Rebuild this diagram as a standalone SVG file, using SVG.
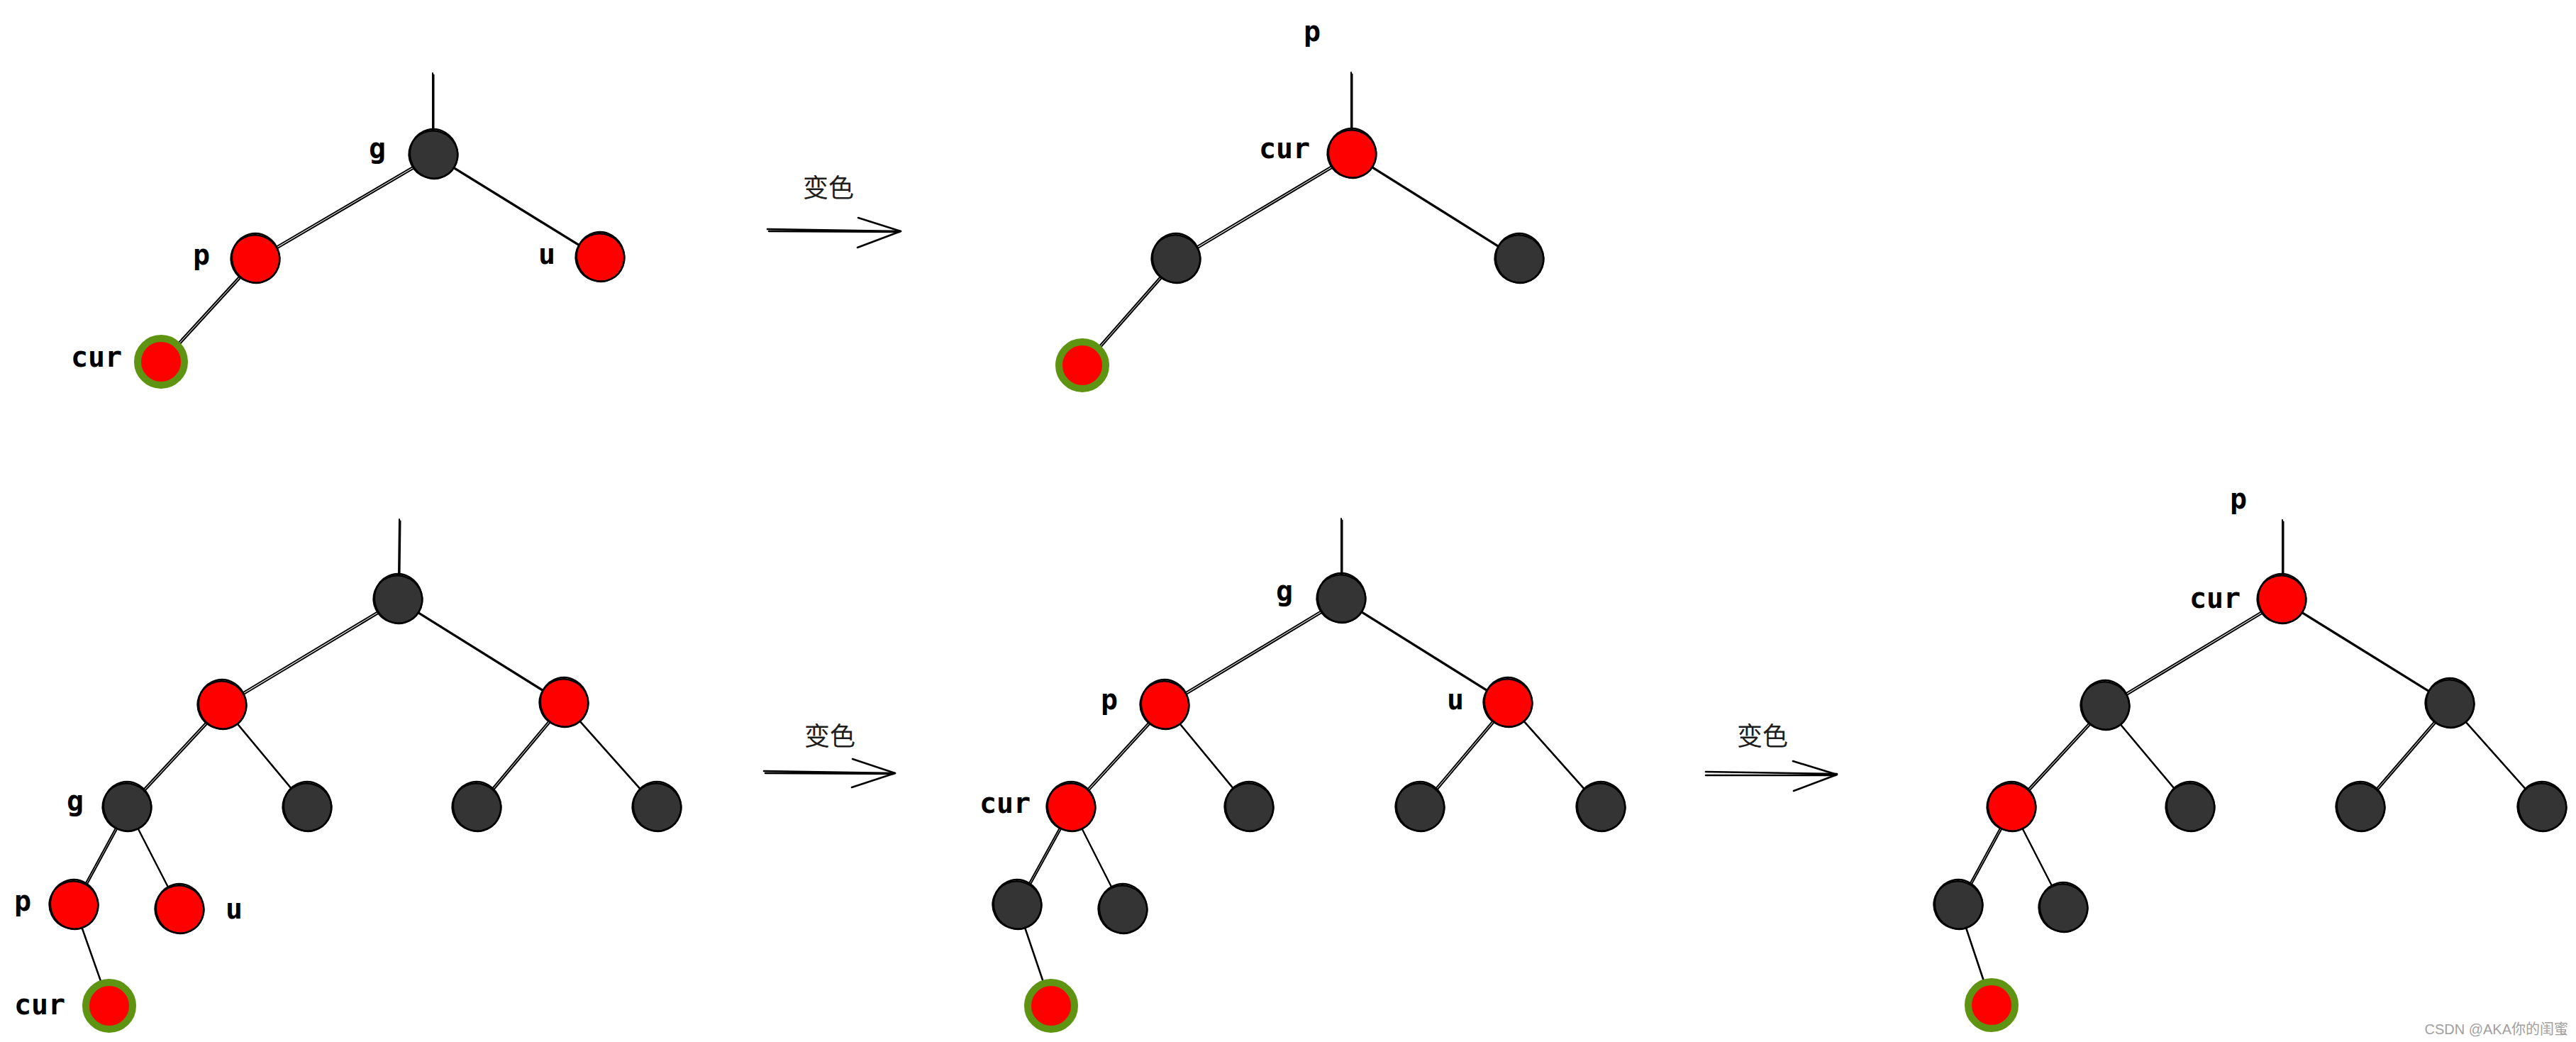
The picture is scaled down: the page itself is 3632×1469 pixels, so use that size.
<svg xmlns="http://www.w3.org/2000/svg" xmlns:xlink="http://www.w3.org/1999/xlink" width="3632" height="1469" viewBox="0 0 3632 1469">
<style>
.lbl{font-family:"DejaVu Sans Mono","Liberation Mono",monospace;font-weight:bold;font-size:40px;fill:#000;text-anchor:middle}
.cn{font-family:"Noto Sans CJK SC","Noto Sans",sans-serif;font-size:36px;fill:#1e1e1e;text-anchor:middle}
.wm{font-family:"Liberation Sans","Noto Sans CJK SC",sans-serif;font-size:20px;fill:#a0a0a0;text-anchor:end}
.e{stroke:#000;stroke-width:2;fill:none;stroke-linecap:round}
.ar{stroke:#000;stroke-width:2.6;fill:none;stroke-linecap:round;stroke-linejoin:round}
</style>
<defs>
<g id="ring" fill="none" stroke="#000" stroke-width="2.4">
<ellipse rx="34.5" ry="33.5" transform="rotate(20)"/>
<ellipse cx="0.8" cy="-0.8" rx="33.5" ry="35" transform="rotate(-15)"/>
</g>
<g id="nb"><circle r="34" fill="#343434"/><use xlink:href="#ring"/></g>
<g id="nr"><circle r="34.5" fill="#ff0000"/><use xlink:href="#ring"/></g>
<g id="ng"><circle r="33" fill="#ff0000" stroke="#5f9412" stroke-width="10"/></g>
</defs>
<rect width="3632" height="1469" fill="#fff"/>

<g id="connectors">
<g id="edges">
<line class="e" x1="610" y1="103" x2="610" y2="183"/>
<line class="e" x1="611" y1="218" x2="360" y2="365"/>
<line class="e" x1="611" y1="218" x2="846" y2="363"/>
<line class="e" x1="360" y1="365" x2="227" y2="510"/>
<line class="e" x1="1905" y1="102" x2="1905" y2="183"/>
<line class="e" x1="1906" y1="217" x2="1658" y2="365"/>
<line class="e" x1="1906" y1="217" x2="2142" y2="365"/>
<line class="e" x1="1658" y1="365" x2="1526" y2="515"/>
<line class="e" x1="563" y1="732" x2="562" y2="810"/>
<line class="e" x1="561" y1="845" x2="313" y2="994"/>
<line class="e" x1="561" y1="845" x2="795" y2="991"/>
<line class="e" x1="313" y1="994" x2="179" y2="1138"/>
<line class="e" x1="313" y1="994" x2="433" y2="1138"/>
<line class="e" x1="795" y1="991" x2="672" y2="1138"/>
<line class="e" x1="795" y1="991" x2="926" y2="1138"/>
<line class="e" x1="179" y1="1138" x2="104" y2="1276"/>
<line class="e" x1="179" y1="1138" x2="253" y2="1282"/>
<line class="e" x1="104" y1="1276" x2="154" y2="1418"/>
<line class="e" x1="1891" y1="731" x2="1891" y2="809"/>
<line class="e" x1="1891" y1="844" x2="1642" y2="994"/>
<line class="e" x1="1891" y1="844" x2="2126" y2="991"/>
<line class="e" x1="1642" y1="994" x2="1510" y2="1138"/>
<line class="e" x1="1642" y1="994" x2="1761" y2="1138"/>
<line class="e" x1="2126" y1="991" x2="2002" y2="1138"/>
<line class="e" x1="2126" y1="991" x2="2257" y2="1138"/>
<line class="e" x1="1510" y1="1138" x2="1434" y2="1276"/>
<line class="e" x1="1510" y1="1138" x2="1583" y2="1282"/>
<line class="e" x1="1434" y1="1276" x2="1482" y2="1418"/>
<line class="e" x1="3218" y1="733" x2="3218" y2="808"/>
<line class="e" x1="3217" y1="845" x2="2968" y2="995"/>
<line class="e" x1="3217" y1="845" x2="3454" y2="992"/>
<line class="e" x1="2968" y1="995" x2="2836" y2="1138"/>
<line class="e" x1="2968" y1="995" x2="3088" y2="1138"/>
<line class="e" x1="3454" y1="992" x2="3328" y2="1138"/>
<line class="e" x1="3454" y1="992" x2="3584" y2="1138"/>
<line class="e" x1="2836" y1="1138" x2="2761" y2="1276"/>
<line class="e" x1="2836" y1="1138" x2="2909" y2="1280"/>
<line class="e" x1="2761" y1="1276" x2="2808" y2="1417"/>
</g>
<use xlink:href="#edges" transform="translate(1.5,2.5)"/>
<g id="arrow1">
<path class="ar" d="M1082 323 L1270 326 M1084 326 L1268 327"/>
<path class="ar" d="M1210 307 L1270 326 L1209 349"/>
</g>
<g id="arrow2">
<path class="ar" d="M1077 1087 L1262 1090 M1079 1090 L1260 1091"/>
<path class="ar" d="M1202 1070 L1262 1090 L1201 1110"/>
</g>
<g id="arrow3">
<path class="ar" d="M2405 1088 L2590 1091 M2405 1093 L2588 1093"/>
<path class="ar" d="M2528 1073 L2590 1092 L2529 1115"/>
</g>
</g>

<g id="tree-A">
<g id="A_g"><use xlink:href="#nb" x="611" y="218"/><text class="lbl" x="532" y="223">g</text></g>
<g id="A_p"><use xlink:href="#nr" x="360" y="365"/><text class="lbl" x="284" y="373">p</text></g>
<g id="A_u"><use xlink:href="#nr" x="846" y="363"/><text class="lbl" x="771" y="372">u</text></g>
<g id="A_cur"><use xlink:href="#ng" x="227" y="510"/><text class="lbl" x="136" y="517">cur</text></g>
</g>

<g id="tree-B">
<text id="B_plabel" class="lbl" x="1850" y="58">p</text>
<g id="B_cur"><use xlink:href="#nr" x="1906" y="217"/><text class="lbl" x="1811" y="223">cur</text></g>
<g id="B_l"><use xlink:href="#nb" x="1658" y="365"/></g>
<g id="B_r"><use xlink:href="#nb" x="2142" y="365"/></g>
<g id="B_n"><use xlink:href="#ng" x="1526" y="515"/></g>
</g>

<g id="tree-C">
<g id="C_root"><use xlink:href="#nb" x="561" y="845"/></g>
<g id="C_l"><use xlink:href="#nr" x="313" y="994"/></g>
<g id="C_r"><use xlink:href="#nr" x="795" y="991"/></g>
<g id="C_g"><use xlink:href="#nb" x="179" y="1138"/><text class="lbl" x="106" y="1143">g</text></g>
<g id="C_lr"><use xlink:href="#nb" x="433" y="1138"/></g>
<g id="C_rl"><use xlink:href="#nb" x="672" y="1138"/></g>
<g id="C_rr"><use xlink:href="#nb" x="926" y="1138"/></g>
<g id="C_p"><use xlink:href="#nr" x="104" y="1276"/><text class="lbl" x="32" y="1284">p</text></g>
<g id="C_u"><use xlink:href="#nr" x="253" y="1282"/><text class="lbl" x="330" y="1295">u</text></g>
<g id="C_cur"><use xlink:href="#ng" x="154" y="1418"/><text class="lbl" x="56" y="1430">cur</text></g>
</g>

<g id="tree-D">
<g id="D_g"><use xlink:href="#nb" x="1891" y="844"/><text class="lbl" x="1811" y="847">g</text></g>
<g id="D_p"><use xlink:href="#nr" x="1642" y="994"/><text class="lbl" x="1564" y="1000">p</text></g>
<g id="D_u"><use xlink:href="#nr" x="2126" y="991"/><text class="lbl" x="2052" y="1000">u</text></g>
<g id="D_cur"><use xlink:href="#nr" x="1510" y="1138"/><text class="lbl" x="1417" y="1146">cur</text></g>
<g id="D_pr"><use xlink:href="#nb" x="1761" y="1138"/></g>
<g id="D_ul"><use xlink:href="#nb" x="2002" y="1138"/></g>
<g id="D_ur"><use xlink:href="#nb" x="2257" y="1138"/></g>
<g id="D_cl"><use xlink:href="#nb" x="1434" y="1276"/></g>
<g id="D_cr"><use xlink:href="#nb" x="1583" y="1282"/></g>
<g id="D_n"><use xlink:href="#ng" x="1482" y="1418"/></g>
</g>

<g id="tree-E">
<text id="E_plabel" class="lbl" x="3156" y="717">p</text>
<g id="E_cur"><use xlink:href="#nr" x="3217" y="845"/><text class="lbl" x="3123" y="857">cur</text></g>
<g id="E_l"><use xlink:href="#nb" x="2968" y="995"/></g>
<g id="E_r"><use xlink:href="#nb" x="3454" y="992"/></g>
<g id="E_red"><use xlink:href="#nr" x="2836" y="1138"/></g>
<g id="E_lr"><use xlink:href="#nb" x="3088" y="1138"/></g>
<g id="E_rl"><use xlink:href="#nb" x="3328" y="1138"/></g>
<g id="E_rr"><use xlink:href="#nb" x="3584" y="1138"/></g>
<g id="E_a"><use xlink:href="#nb" x="2761" y="1276"/></g>
<g id="E_b"><use xlink:href="#nb" x="2909" y="1280"/></g>
<g id="E_n"><use xlink:href="#ng" x="2808" y="1417"/></g>
</g>

<g id="labels">
<text class="cn" x="1168" y="278">变色</text>
<text class="cn" x="1170" y="1051">变色</text>
<text class="cn" x="2485" y="1051">变色</text>
<text class="wm" x="3621" y="1458">CSDN @AKA你的闺蜜</text>
</g>
</svg>
